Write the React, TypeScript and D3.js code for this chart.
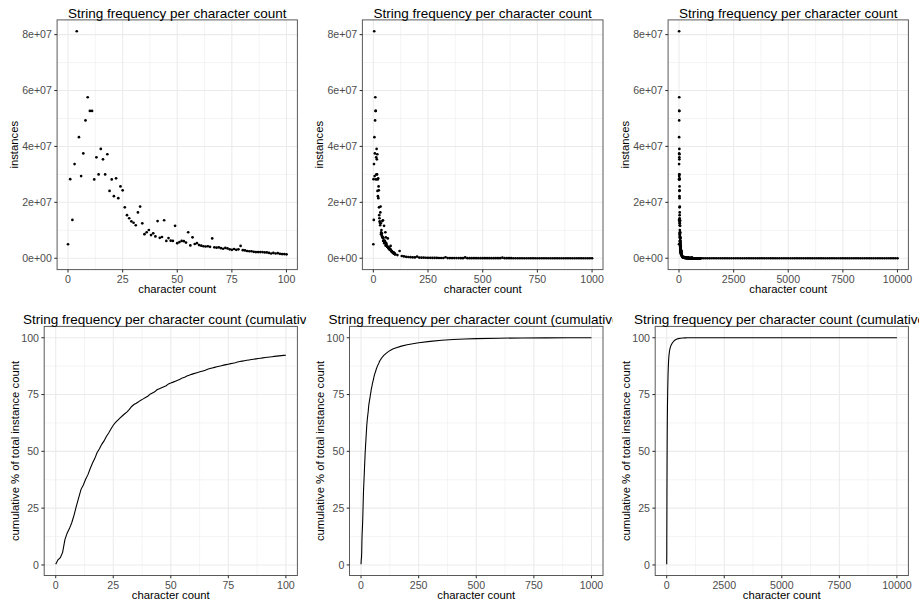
import React from 'react';
import * as d3 from 'd3';

// ---------- DATA ----------
// instances for character counts 0..100
const headCounts: number[] = [
  5.0e6, 2.83e7, 1.37e7, 3.37e7, 8.12e7, 4.33e7, 2.94e7, 3.75e7, 4.93e7, 5.76e7,
  5.27e7, 5.27e7, 2.82e7, 3.61e7, 3.0e7, 3.91e7, 3.54e7, 3.0e7, 3.72e7, 2.41e7,
  2.82e7, 2.22e7, 2.86e7, 2.15e7, 2.57e7, 2.43e7, 1.82e7, 1.54e7, 1.43e7, 1.32e7,
  1.27e7, 1.18e7, 1.64e7, 1.85e7, 1.25e7, 8.6e6, 9.3e6, 1.01e7, 8.3e6, 8.9e6,
  7.8e6, 1.33e7, 7.3e6, 7.6e6, 1.36e7, 6.2e6, 7.2e6, 6.3e6, 6.2e6, 1.16e7,
  5.4e6, 5.8e6, 6.2e6, 6.1e6, 5.6e6, 9.3e6, 4.6e6, 7.5e6, 5.1e6, 5.4e6,
  4.7e6, 4.5e6, 4.3e6, 4.2e6, 4.3e6, 4.1e6, 7.1e6, 3.9e6, 3.8e6, 3.9e6,
  3.6e6, 3.4e6, 3.7e6, 3.5e6, 3.2e6, 3.0e6, 3.3e6, 3.0e6, 3.2e6, 4.4e6,
  2.9e6, 2.8e6, 2.6e6, 2.5e6, 2.5e6, 2.3e6, 2.2e6, 2.2e6, 2.2e6, 2.2e6,
  2.1e6, 2.1e6, 1.9e6, 1.7e6, 1.9e6, 1.7e6, 1.8e6, 1.6e6, 1.5e6, 1.5e6,
  1.4e6,
];

// instances for character counts 110, 120, ..., 1000
const tailCounts10: number[] = [
  1150000, 2600000, 800000, 650000, 520000, 440000, 370000, 320000, 280000, 600000,
  240000, 210000, 190000, 170000, 155000, 140000, 128000, 116000, 105000, 96000,
  88000, 81000, 350000, 70000, 64000, 59000, 54000, 50000, 46000, 43000,
  40000, 280000, 35000, 32000, 30000, 28000, 26000, 24000, 22500, 21000,
  19500, 18200, 17000, 15900, 14900, 14000, 13100, 12300, 200000, 11000,
  10400, 9800, 9300, 8800, 8300, 7900, 7500, 7100, 6800, 6400,
  6100, 5800, 5500, 5300, 5000, 4800, 4600, 4400, 4200, 4000,
  3800, 3700, 3500, 3400, 3200, 3100, 3000, 2900, 2800, 2700,
  2600, 2500, 2400, 2300, 2250, 2200, 2100, 2050, 2000, 1950,
];

// instances for character counts 1100, 1200, ..., 10000
const tailCounts100: number[] = [
  1800, 1650, 1500, 1380, 1270, 1170, 1080, 1000, 930, 860,
  800, 745, 695, 650, 605, 565, 530, 495, 465, 435,
  410, 385, 360, 340, 320, 300, 283, 267, 252, 238,
  225, 212, 200, 189, 179, 169, 160, 151, 143, 135,
  128, 121, 115, 109, 103, 98, 93, 88, 83, 79,
  75, 71, 67, 64, 61, 58, 55, 52, 49, 47,
  45, 42, 40, 38, 36, 34, 33, 31, 30, 28,
  27, 26, 24, 23, 22, 21, 20, 19, 18, 17,
  16, 15, 15, 14, 13, 13, 12, 12, 11, 11,
];

const totalInstances = 1.456e9;

// cumulative % beyond 100 characters
const cumTailChars: number[] = [110, 120, 130, 140, 150, 175, 200, 250, 300, 350, 400, 450, 500, 600, 700, 800, 900, 1000, 2500, 5000, 7500, 10000];
const cumTailPct: number[] = [93.2, 94.0, 94.6, 95.1, 95.5, 96.3, 96.9, 97.8, 98.4, 98.9, 99.2, 99.45, 99.6, 99.8, 99.9, 99.94, 99.97, 99.98, 100, 100, 100, 100];

const xLimits: number[] = [100, 1000, 10000];
const xTicksPerPanel: number[][] = [
  [0, 25, 50, 75, 100],
  [0, 250, 500, 750, 1000],
  [0, 2500, 5000, 7500, 10000],
];
const yTicksTop: number[] = [0, 2e7, 4e7, 6e7, 8e7];
const yTickLabelsTop: string[] = ['0e+00', '2e+07', '4e+07', '6e+07', '8e+07'];
const yTicksBottom: number[] = [0, 25, 50, 75, 100];
const yTickLabelsBottom: string[] = ['0', '25', '50', '75', '100'];

const titleTop = 'String frequency per character count';
const titleBottom = 'String frequency per character count (cumulative)';
const xTitle = 'character count';
const yTitleTop = 'instances';
const yTitleBottom = 'cumulative % of total instance count';

// ---------- derived data ----------
type Pt = { x: number; y: number };
const countPoints: Pt[] = [
  ...headCounts.map((v, i) => ({ x: i, y: v })),
  ...tailCounts10.map((v, i) => ({ x: 110 + i * 10, y: v })),
  ...tailCounts100.map((v, i) => ({ x: 1100 + i * 100, y: v })),
];
const cumHead: Pt[] = (() => {
  let s = 0;
  return headCounts.map((v, i) => {
    s += v;
    return { x: i, y: (s / totalInstances) * 100 };
  });
})();
const cumPoints: Pt[] = [...cumHead, ...cumTailChars.map((c, i) => ({ x: c, y: cumTailPct[i] }))];

// ---------- layout ----------
const W = 919;
const H = 606;
const cellEdges = [0, W / 3, (2 * W) / 3, W];
const topRow = { y0: 19.9, y1: 269.6 };
const botRow = { y0: 326.4, y1: 575.5 };
const topLefts = [57.1, 362.4, 668.1];
const botLefts = [44.2, 349.5, 655.2];
const rights = [297.4, 603.0, 908.4];

const FONT = '"Liberation Sans", Arial, Helvetica, sans-serif';
const TICK_FS = 10.6;
const AXT_FS = 11.3;
const TITLE_FS = 13.5;

function expand(lo: number, hi: number): [number, number] {
  const r = hi - lo;
  return [lo - 0.05 * r, hi + 0.05 * r];
}

function minors(ticks: number[], domain: [number, number]): number[] {
  const step = ticks[1] - ticks[0];
  const out: number[] = [];
  for (let i = -1; i < ticks.length; i++) {
    const m = ticks[0] + step * (i + 0.5);
    if (m > domain[0] && m < domain[1]) out.push(m);
  }
  return out;
}

type PanelProps = {
  id: string;
  col: number;
  left: number;
  right: number;
  top: number;
  bottom: number;
  xDomain: [number, number];
  yDomain: [number, number];
  xTicks: number[];
  yTicks: number[];
  yTickLabels: string[];
  title: string;
  yTitle: string;
  yTitleOffset: number;
  kind: 'points' | 'line';
  data: Pt[];
};

function Panel(p: PanelProps) {
  const x = d3.scaleLinear().domain(p.xDomain).range([p.left, p.right]);
  const y = d3.scaleLinear().domain(p.yDomain).range([p.bottom, p.top]);
  const xMinor = minors(p.xTicks, p.xDomain);
  const yMinor = minors(p.yTicks, p.yDomain);
  const cx = (p.left + p.right) / 2;
  const cy = (p.top + p.bottom) / 2;
  const grid = '#EBEBEB';
  const line = d3
    .line<Pt>()
    .x((d) => x(d.x))
    .y((d) => y(d.y));
  return (
    <g>
      <defs>
        <clipPath id={`clip-${p.id}`}>
          <rect x={p.left} y={p.top} width={p.right - p.left} height={p.bottom - p.top} />
        </clipPath>
        <clipPath id={`cell-${p.id}`}>
          <rect x={cellEdges[p.col]} y={0} width={cellEdges[p.col + 1] - cellEdges[p.col]} height={H} />
        </clipPath>
      </defs>
      <rect x={p.left} y={p.top} width={p.right - p.left} height={p.bottom - p.top} fill="#fff" />
      {/* minor grid */}
      {xMinor.map((v) => (
        <line key={`xm${v}`} x1={x(v)} x2={x(v)} y1={p.top} y2={p.bottom} stroke={grid} strokeWidth={0.55} />
      ))}
      {yMinor.map((v) => (
        <line key={`ym${v}`} x1={p.left} x2={p.right} y1={y(v)} y2={y(v)} stroke={grid} strokeWidth={0.55} />
      ))}
      {/* major grid */}
      {p.xTicks.map((v) => (
        <line key={`xg${v}`} x1={x(v)} x2={x(v)} y1={p.top} y2={p.bottom} stroke={grid} strokeWidth={1.07} />
      ))}
      {p.yTicks.map((v) => (
        <line key={`yg${v}`} x1={p.left} x2={p.right} y1={y(v)} y2={y(v)} stroke={grid} strokeWidth={1.07} />
      ))}
      {/* marks */}
      <g clipPath={`url(#clip-${p.id})`}>
        {p.kind === 'points'
          ? p.data.map((d, i) => <circle key={i} cx={x(d.x)} cy={y(d.y)} r={1.35} fill="#000" />)
          : <path d={line(p.data) || ''} fill="none" stroke="#000" strokeWidth={1.1} />}
      </g>
      {/* border */}
      <rect x={p.left} y={p.top} width={p.right - p.left} height={p.bottom - p.top} fill="none" stroke="#5a5a5a" strokeWidth={1} />
      {/* ticks */}
      {p.xTicks.map((v) => (
        <g key={`xt${v}`}>
          <line x1={x(v)} x2={x(v)} y1={p.bottom} y2={p.bottom + 2.8} stroke="#333" strokeWidth={1.07} />
          <text x={x(v)} y={p.bottom + 13} textAnchor="middle" fontSize={TICK_FS} fill="#4D4D4D" fontFamily={FONT}>
            {String(v)}
          </text>
        </g>
      ))}
      {p.yTicks.map((v, i) => (
        <g key={`yt${v}`}>
          <line x1={p.left - 2.8} x2={p.left} y1={y(v)} y2={y(v)} stroke="#333" strokeWidth={1.07} />
          <text x={p.left - 5.2} y={y(v)} dy="0.36em" textAnchor="end" fontSize={TICK_FS} fill="#4D4D4D" fontFamily={FONT}>
            {p.yTickLabels[i]}
          </text>
        </g>
      ))}
      {/* axis titles */}
      <text x={cx} y={p.bottom + 23} textAnchor="middle" fontSize={AXT_FS} fill="#000" fontFamily={FONT}>
        {xTitle}
      </text>
      <text
        transform={`translate(${p.left - p.yTitleOffset},${cy}) rotate(-90)`}
        textAnchor="middle"
        fontSize={AXT_FS}
        fill="#000"
        fontFamily={FONT}
      >
        {p.yTitle}
      </text>
      {/* plot title */}
      <g clipPath={`url(#cell-${p.id})`}>
        <text x={cx} y={p.top - 2.1} textAnchor="middle" fontSize={TITLE_FS} fill="#000" fontFamily={FONT}>
          {p.title}
        </text>
      </g>
    </g>
  );
}

export default function App() {
  const topY = expand(d3.min(countPoints, (d) => d.y) as number, d3.max(countPoints, (d) => d.y) as number);
  const botY = expand(d3.min(cumPoints, (d) => d.y) as number, d3.max(cumPoints, (d) => d.y) as number);
  return (
    <svg
      width={W}
      height={H}
      viewBox={`0 0 ${W} ${H}`}
      style={{ position: 'absolute', left: 0, top: 0, background: '#fff' }}
    >
      <rect x={0} y={0} width={W} height={H} fill="#fff" />
      {xLimits.map((lim, c) => (
        <Panel
          key={`t${c}`}
          id={`t${c}`}
          col={c}
          left={topLefts[c]}
          right={rights[c]}
          top={topRow.y0}
          bottom={topRow.y1}
          xDomain={expand(0, lim)}
          yDomain={topY}
          xTicks={xTicksPerPanel[c]}
          yTicks={yTicksTop}
          yTickLabels={yTickLabelsTop}
          title={titleTop}
          yTitle={yTitleTop}
          yTitleOffset={39.6}
          kind="points"
          data={countPoints.filter((d) => d.x <= lim)}
        />
      ))}
      {xLimits.map((lim, c) => (
        <Panel
          key={`b${c}`}
          id={`b${c}`}
          col={c}
          left={botLefts[c]}
          right={rights[c]}
          top={botRow.y0}
          bottom={botRow.y1}
          xDomain={expand(0, lim)}
          yDomain={botY}
          xTicks={xTicksPerPanel[c]}
          yTicks={yTicksBottom}
          yTickLabels={yTickLabelsBottom}
          title={titleBottom}
          yTitle={yTitleBottom}
          yTitleOffset={25.3}
          kind="line"
          data={cumPoints.filter((d) => d.x <= lim)}
        />
      ))}
    </svg>
  );
}
